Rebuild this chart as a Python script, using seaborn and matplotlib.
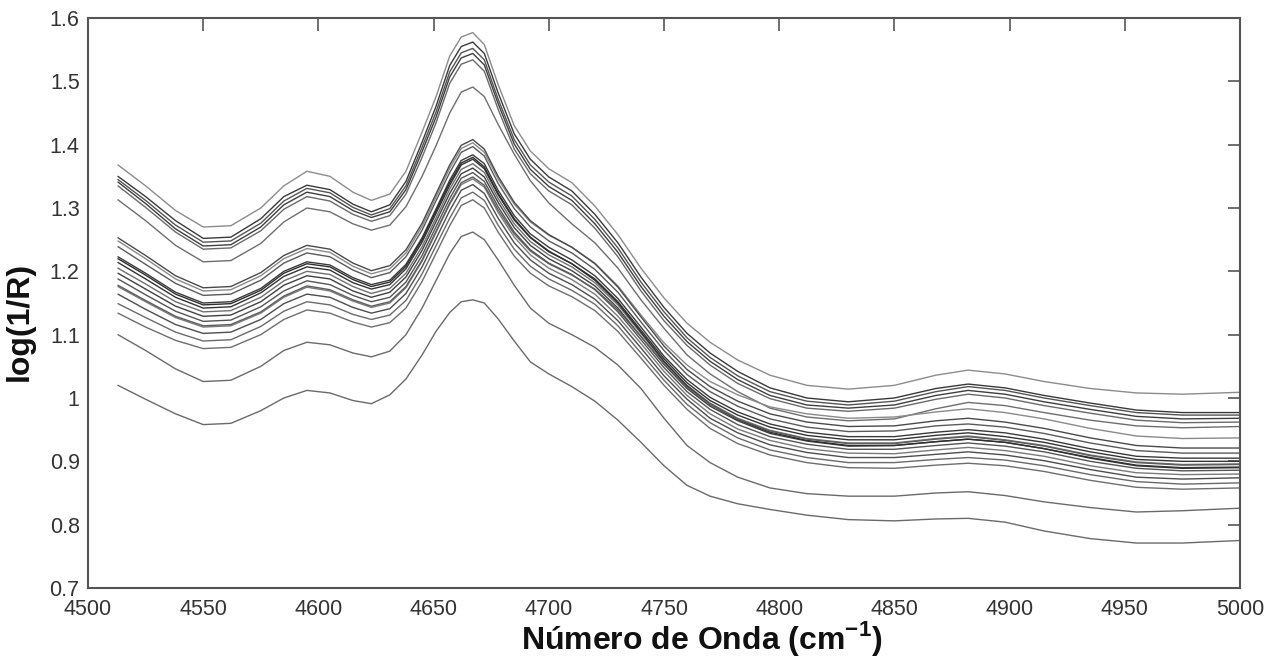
import numpy as np
import pandas as pd
import matplotlib
matplotlib.use("Agg")
import matplotlib.pyplot as plt
import seaborn as sns

# ---------------- data ----------------
wavenumber = [4513, 4525, 4538, 4550, 4562, 4575, 4585, 4595, 4605, 4615,
              4623, 4631, 4638, 4645, 4651, 4657, 4662, 4667, 4672, 4678,
              4685, 4692, 4700, 4710, 4720, 4730, 4740, 4750, 4760, 4770,
              4782, 4796, 4812, 4830, 4850, 4868, 4882, 4898, 4915, 4935,
              4955, 4975, 5000]

T1 = [1.368, 1.335, 1.296, 1.270, 1.272, 1.300, 1.335, 1.358, 1.350, 1.325,
      1.312, 1.322, 1.358, 1.420, 1.475, 1.540, 1.570, 1.577, 1.558, 1.495,
      1.430, 1.390, 1.362, 1.340, 1.303, 1.258, 1.205, 1.158, 1.118, 1.088,
      1.060, 1.036, 1.020, 1.014, 1.020, 1.036, 1.044, 1.038, 1.026, 1.015,
      1.008, 1.006, 1.009]
T2 = [1.350, 1.318, 1.280, 1.252, 1.254, 1.283, 1.318, 1.336, 1.329, 1.306,
      1.294, 1.305, 1.342, 1.404, 1.460, 1.525, 1.555, 1.562, 1.544, 1.482,
      1.417, 1.377, 1.349, 1.327, 1.290, 1.245, 1.191, 1.143, 1.102, 1.071,
      1.042, 1.016, 1.000, 0.994, 1.000, 1.015, 1.022, 1.016, 1.004, 0.992,
      0.981, 0.977, 0.977]
T3 = [1.345, 1.312, 1.273, 1.246, 1.248, 1.276, 1.311, 1.331, 1.324, 1.301,
      1.289, 1.299, 1.335, 1.396, 1.451, 1.515, 1.545, 1.552, 1.534, 1.472,
      1.408, 1.368, 1.341, 1.319, 1.282, 1.237, 1.183, 1.136, 1.095, 1.064,
      1.035, 1.010, 0.995, 0.989, 0.995, 1.010, 1.018, 1.012, 1.000, 0.988,
      0.977, 0.973, 0.973]
T4 = [1.341, 1.307, 1.267, 1.240, 1.242, 1.270, 1.305, 1.325, 1.318, 1.296,
      1.285, 1.294, 1.329, 1.389, 1.443, 1.507, 1.537, 1.544, 1.526, 1.465,
      1.401, 1.361, 1.334, 1.312, 1.275, 1.230, 1.176, 1.129, 1.089, 1.058,
      1.029, 1.004, 0.989, 0.984, 0.989, 1.004, 1.012, 1.006, 0.994, 0.982,
      0.971, 0.967, 0.968]
T5 = [1.335, 1.301, 1.262, 1.235, 1.237, 1.264, 1.298, 1.318, 1.311, 1.290,
      1.279, 1.288, 1.322, 1.380, 1.434, 1.497, 1.527, 1.534, 1.516, 1.456,
      1.393, 1.354, 1.327, 1.305, 1.268, 1.223, 1.169, 1.122, 1.083, 1.052,
      1.023, 0.999, 0.984, 0.979, 0.984, 0.998, 1.006, 1.000, 0.988, 0.976,
      0.965, 0.961, 0.962]
T6 = [1.313, 1.280, 1.241, 1.215, 1.217, 1.244, 1.278, 1.300, 1.294, 1.275,
      1.265, 1.273, 1.302, 1.350, 1.398, 1.450, 1.483, 1.491, 1.476, 1.432,
      1.385, 1.343, 1.308, 1.275, 1.245, 1.205, 1.155, 1.110, 1.068, 1.038,
      1.010, 0.984, 0.970, 0.964, 0.967, 0.983, 0.993, 0.988, 0.977, 0.965,
      0.956, 0.953, 0.955]

M0 = [1.248, 1.220, 1.188, 1.169, 1.171, 1.193, 1.220, 1.236, 1.230, 1.208,
      1.196, 1.204, 1.229, 1.271, 1.317, 1.363, 1.394, 1.403, 1.388, 1.346,
      1.306, 1.278, 1.257, 1.238, 1.213, 1.177, 1.131, 1.087, 1.052, 1.026,
      1.005, 0.986, 0.975, 0.968, 0.970, 0.978, 0.983, 0.977, 0.967, 0.952,
      0.940, 0.936, 0.937]
M1 = [1.253, 1.225, 1.193, 1.174, 1.176, 1.198, 1.225, 1.241, 1.235, 1.213,
      1.201, 1.209, 1.234, 1.276, 1.322, 1.368, 1.399, 1.408, 1.393, 1.350,
      1.309, 1.280, 1.258, 1.238, 1.212, 1.175, 1.128, 1.082, 1.045, 1.018,
      0.995, 0.975, 0.962, 0.955, 0.956, 0.964, 0.968, 0.962, 0.952, 0.937,
      0.925, 0.921, 0.921]
M2 = [1.239, 1.211, 1.181, 1.162, 1.164, 1.186, 1.213, 1.229, 1.223, 1.202,
      1.190, 1.198, 1.223, 1.265, 1.311, 1.356, 1.388, 1.397, 1.382, 1.339,
      1.299, 1.270, 1.248, 1.229, 1.203, 1.167, 1.120, 1.075, 1.037, 1.010,
      0.987, 0.967, 0.954, 0.947, 0.948, 0.956, 0.959, 0.954, 0.944, 0.929,
      0.917, 0.913, 0.913]
M3 = [1.223, 1.197, 1.167, 1.150, 1.152, 1.173, 1.200, 1.215, 1.210, 1.190,
      1.179, 1.186, 1.211, 1.253, 1.298, 1.344, 1.375, 1.384, 1.370, 1.328,
      1.288, 1.259, 1.238, 1.218, 1.193, 1.157, 1.112, 1.066, 1.029, 1.001,
      0.978, 0.959, 0.946, 0.939, 0.939, 0.946, 0.950, 0.945, 0.935, 0.920,
      0.908, 0.905, 0.905]
M4 = [1.214, 1.188, 1.159, 1.142, 1.144, 1.166, 1.192, 1.207, 1.202, 1.182,
      1.172, 1.179, 1.204, 1.246, 1.291, 1.336, 1.368, 1.377, 1.362, 1.321,
      1.281, 1.253, 1.231, 1.212, 1.188, 1.152, 1.107, 1.062, 1.024, 0.996,
      0.973, 0.954, 0.941, 0.934, 0.934, 0.941, 0.945, 0.939, 0.930, 0.915,
      0.903, 0.900, 0.900]
M5 = [1.205, 1.180, 1.152, 1.136, 1.138, 1.159, 1.185, 1.200, 1.195, 1.176,
      1.165, 1.173, 1.197, 1.239, 1.284, 1.330, 1.361, 1.370, 1.356, 1.315,
      1.275, 1.247, 1.226, 1.207, 1.182, 1.147, 1.102, 1.057, 1.020, 0.992,
      0.968, 0.949, 0.936, 0.929, 0.929, 0.936, 0.940, 0.934, 0.925, 0.910,
      0.899, 0.895, 0.896]
M6 = [1.197, 1.172, 1.145, 1.129, 1.131, 1.152, 1.178, 1.193, 1.188, 1.169,
      1.159, 1.167, 1.191, 1.233, 1.278, 1.323, 1.354, 1.363, 1.349, 1.309,
      1.269, 1.241, 1.220, 1.201, 1.177, 1.142, 1.097, 1.053, 1.015, 0.987,
      0.964, 0.944, 0.932, 0.924, 0.925, 0.931, 0.935, 0.930, 0.920, 0.906,
      0.894, 0.890, 0.891]
M7 = [1.188, 1.163, 1.137, 1.121, 1.123, 1.144, 1.169, 1.185, 1.179, 1.162,
      1.152, 1.159, 1.183, 1.225, 1.270, 1.315, 1.347, 1.356, 1.342, 1.302,
      1.262, 1.234, 1.213, 1.195, 1.171, 1.136, 1.092, 1.048, 1.010, 0.982,
      0.958, 0.939, 0.927, 0.919, 0.919, 0.925, 0.929, 0.924, 0.915, 0.900,
      0.889, 0.885, 0.886]
M8 = [1.176, 1.152, 1.127, 1.112, 1.114, 1.134, 1.159, 1.175, 1.169, 1.153,
      1.143, 1.150, 1.174, 1.216, 1.261, 1.306, 1.337, 1.346, 1.333, 1.293,
      1.254, 1.226, 1.205, 1.187, 1.164, 1.129, 1.086, 1.042, 1.004, 0.975,
      0.951, 0.933, 0.920, 0.913, 0.912, 0.918, 0.922, 0.917, 0.908, 0.893,
      0.882, 0.879, 0.880]
M9 = [1.164, 1.140, 1.116, 1.102, 1.104, 1.124, 1.149, 1.164, 1.159, 1.143,
      1.134, 1.141, 1.165, 1.207, 1.251, 1.296, 1.328, 1.337, 1.323, 1.284,
      1.245, 1.218, 1.197, 1.179, 1.156, 1.122, 1.079, 1.035, 0.998, 0.968,
      0.945, 0.926, 0.914, 0.906, 0.906, 0.911, 0.915, 0.910, 0.901, 0.887,
      0.875, 0.872, 0.874]
M10 = [1.149, 1.127, 1.104, 1.090, 1.092, 1.113, 1.137, 1.152, 1.147, 1.132,
       1.124, 1.131, 1.154, 1.196, 1.240, 1.284, 1.316, 1.325, 1.312, 1.273,
       1.235, 1.208, 1.188, 1.170, 1.148, 1.114, 1.071, 1.028, 0.990, 0.961,
       0.937, 0.918, 0.906, 0.898, 0.898, 0.903, 0.906, 0.902, 0.893, 0.879,
       0.868, 0.864, 0.866]
M11 = [1.134, 1.112, 1.091, 1.078, 1.080, 1.100, 1.124, 1.139, 1.134, 1.120,
       1.112, 1.119, 1.142, 1.184, 1.228, 1.272, 1.304, 1.313, 1.300, 1.262,
       1.224, 1.197, 1.177, 1.160, 1.138, 1.105, 1.063, 1.020, 0.982, 0.952,
       0.928, 0.910, 0.898, 0.890, 0.889, 0.894, 0.897, 0.893, 0.884, 0.870,
       0.859, 0.856, 0.858]
M12 = [1.220, 1.194, 1.164, 1.147, 1.149, 1.170, 1.197, 1.212, 1.207, 1.187,
       1.176, 1.183, 1.208, 1.250, 1.295, 1.340, 1.371, 1.380, 1.365, 1.323,
       1.283, 1.254, 1.232, 1.212, 1.186, 1.150, 1.104, 1.058, 1.019, 0.990,
       0.966, 0.946, 0.933, 0.925, 0.925, 0.931, 0.935, 0.930, 0.920, 0.905,
       0.893, 0.889, 0.890]
M13 = [1.178, 1.154, 1.129, 1.114, 1.116, 1.136, 1.161, 1.177, 1.171, 1.155,
       1.145, 1.152, 1.176, 1.218, 1.263, 1.308, 1.340, 1.349, 1.336, 1.297,
       1.259, 1.232, 1.212, 1.194, 1.172, 1.139, 1.097, 1.054, 1.017, 0.990,
       0.967, 0.948, 0.935, 0.928, 0.928, 0.935, 0.939, 0.933, 0.924, 0.909,
       0.898, 0.894, 0.895]

B2 = [1.100, 1.075, 1.046, 1.026, 1.028, 1.050, 1.075, 1.088, 1.084, 1.071,
      1.065, 1.074, 1.100, 1.142, 1.185, 1.228, 1.255, 1.262, 1.250, 1.218,
      1.178, 1.142, 1.118, 1.100, 1.080, 1.052, 1.015, 0.968, 0.925, 0.898,
      0.875, 0.858, 0.849, 0.845, 0.845, 0.850, 0.852, 0.846, 0.836, 0.827,
      0.820, 0.822, 0.826]
B1 = [1.020, 0.998, 0.975, 0.958, 0.960, 0.980, 1.000, 1.012, 1.008, 0.996,
      0.991, 1.005, 1.030, 1.068, 1.105, 1.135, 1.152, 1.155, 1.150, 1.125,
      1.090, 1.057, 1.038, 1.018, 0.995, 0.965, 0.930, 0.893, 0.862, 0.845,
      0.833, 0.824, 0.815, 0.808, 0.806, 0.809, 0.810, 0.804, 0.790, 0.778,
      0.771, 0.771, 0.775]

x_ticks = [4500, 4550, 4600, 4650, 4700, 4750, 4800, 4850, 4900, 4950, 5000]
y_ticks = [0.7, 0.8, 0.9, 1.0, 1.1, 1.2, 1.3, 1.4, 1.5, 1.6]
y_tick_labels = ["0.7", "0.8", "0.9", "1", "1.1", "1.2", "1.3", "1.4", "1.5", "1.6"]
x_label = "Número de Onda (cm$^{\\mathbf{-1}}$)"
y_label = "log(1/R)"

# ---------------- build long table ----------------
curves = {"T1": T1, "T2": T2, "T3": T3, "T4": T4, "T5": T5, "T6": T6,
          "M0": M0, "M1": M1, "M2": M2, "M3": M3, "M4": M4, "M5": M5, "M6": M6,
          "M7": M7, "M8": M8, "M9": M9, "M10": M10, "M11": M11, "M12": M12,
          "M13": M13, "B2": B2, "B1": B1}
for name, vals in curves.items():
    assert len(vals) == len(wavenumber), (name, len(vals))

rows = []
for name, vals in curves.items():
    for w, v in zip(wavenumber, vals):
        rows.append((name, w, v))
df = pd.DataFrame(rows, columns=["curve", "wn", "val"])

shade = {"T1": "#8c8c8c", "T2": "#3a3a3a", "T3": "#555555", "T4": "#3f3f3f", "T5": "#6a6a6a",
         "T6": "#6e6e6e", "M0": "#8a8a8a", "M1": "#4a4a4a", "M2": "#5a5a5a", "M3": "#3a3a3a",
         "M4": "#333333", "M5": "#707070", "M6": "#404040", "M7": "#555555", "M8": "#7a7a7a",
         "M9": "#4d4d4d", "M10": "#6a6a6a", "M11": "#6e6e6e", "M12": "#2e2e2e",
         "M13": "#5e5e5e", "B2": "#6a6a6a", "B1": "#6a6a6a"}

# ---------------- plot ----------------
sns.set_style("white")
plt.rcParams["font.family"] = ["Liberation Sans", "DejaVu Sans"]
plt.rcParams["mathtext.fontset"] = "custom"
plt.rcParams["mathtext.rm"] = "Liberation Sans"
plt.rcParams["mathtext.bf"] = "Liberation Sans:bold"

fig = plt.figure(figsize=(12.71, 6.62), dpi=100)
ax = fig.add_axes([88 / 1271, 1 - 588 / 662, 1152 / 1271, 570 / 662])

sns.lineplot(data=df, x="wn", y="val", hue="curve", palette=shade, estimator=None,
             sort=False, legend=False, linewidth=1.0, ax=ax)

ax.set_xlim(4500, 5000)
ax.set_ylim(0.7, 1.6)
ax.set_xticks(x_ticks)
ax.set_xticklabels([str(t) for t in x_ticks])
ax.set_yticks(y_ticks)
ax.set_yticklabels(y_tick_labels)
ax.tick_params(direction="in", length=9, width=1.2, color="#555555", top=True, right=True,
               labelsize=15.5, labelcolor="#333333")
ax.tick_params(axis="x", pad=8)
ax.tick_params(axis="y", pad=6)
for s in ax.spines.values():
    s.set_color("#555555")
    s.set_linewidth(1.5)

ax.set_xlabel(x_label, fontsize=23, fontweight="bold", color="#111111")
ax.set_ylabel(y_label, fontsize=23, fontweight="bold", color="#111111")
ax.xaxis.set_label_coords(0.533, -0.055)
ax.yaxis.set_label_coords(-0.046, 0.467)

fig.savefig("out.png", dpi=100, facecolor="white")
